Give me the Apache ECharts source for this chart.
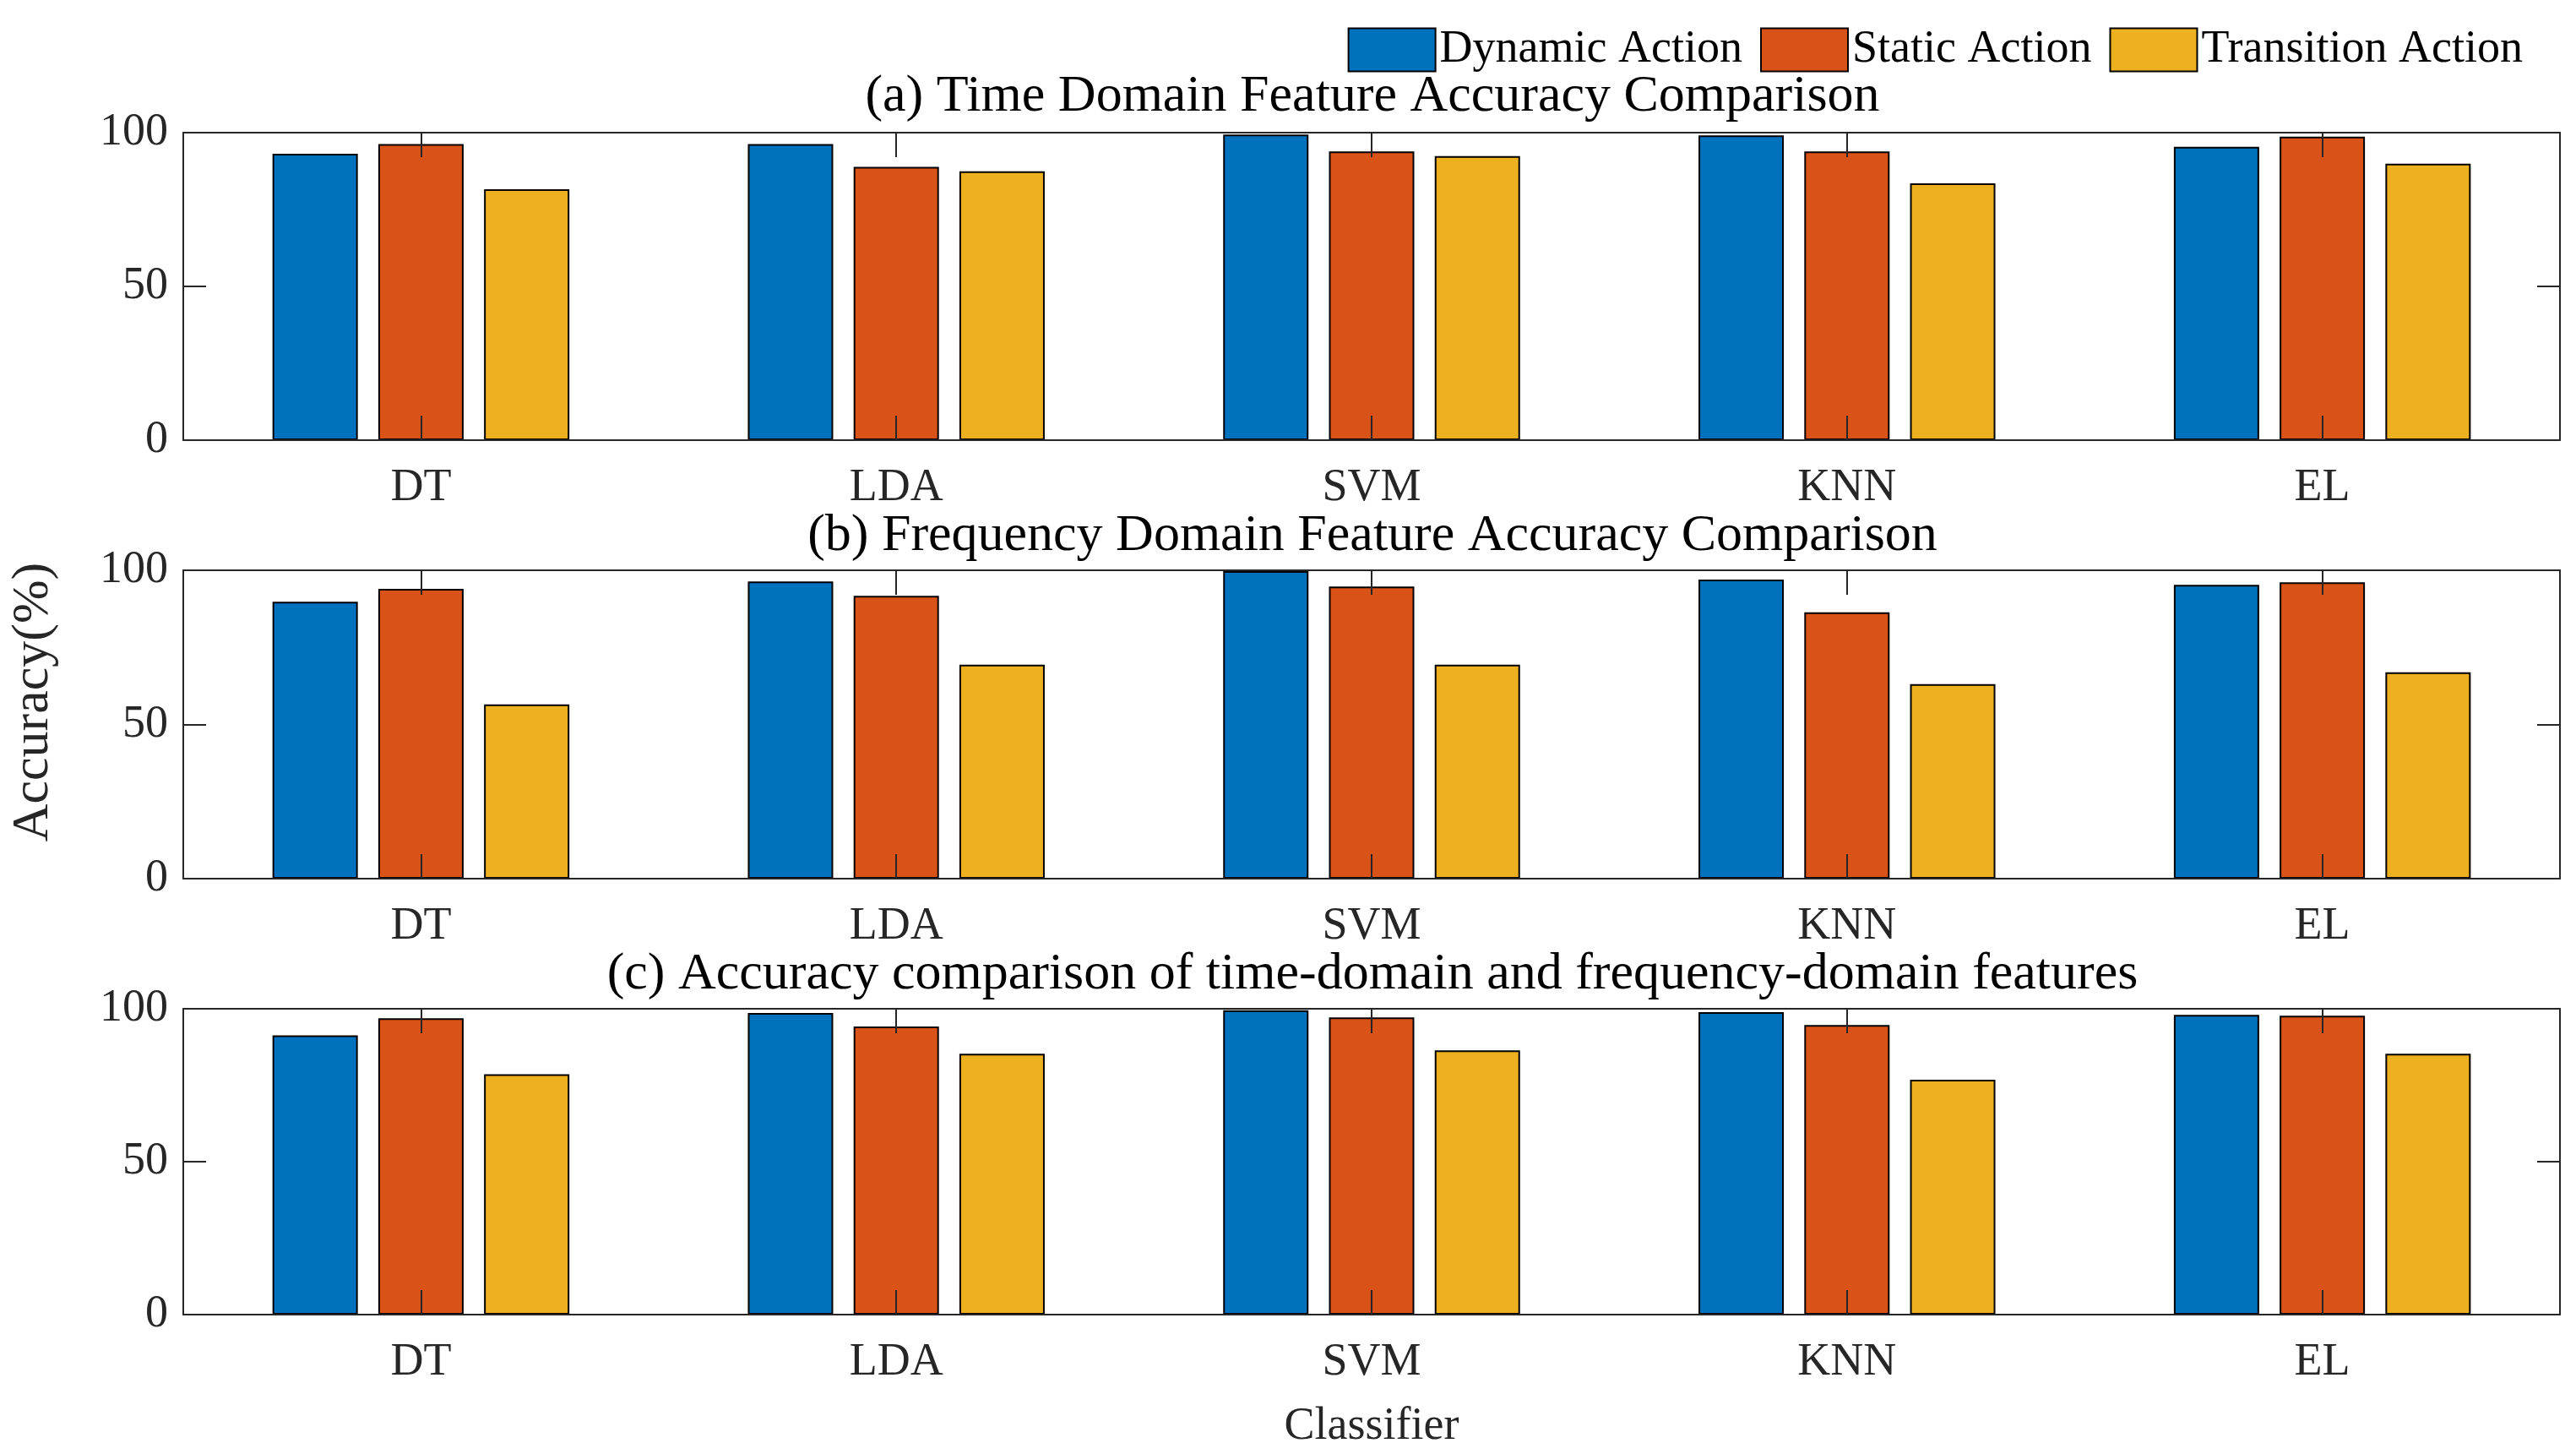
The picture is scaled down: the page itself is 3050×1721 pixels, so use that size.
<!DOCTYPE html>
<html>
<head>
<meta charset="utf-8">
<script src="https://cdn.jsdelivr.net/npm/echarts@6/dist/echarts.min.js"></script>
<style>
html,body{margin:0;padding:0;background:#fff;}
#chart{width:3050px;height:1721px;}
</style>
</head>
<body>
<div id="chart"></div>
<script>
const categories = ['DT', 'LDA', 'SVM', 'KNN', 'EL'];
const seriesNames = ['Dynamic Action', 'Static Action', 'Transition Action'];
const panelTitles = [
  '(a) Time Domain Feature Accuracy Comparison',
  '(b) Frequency Domain Feature Accuracy Comparison',
  '(c) Accuracy comparison of time-domain and frequency-domain features'
];
const yTicks = [0, 50, 100];

const timeDynamic    = [93.1, 96.3, 99.4, 99.1, 95.4];
const timeStatic     = [96.3, 88.9, 93.9, 93.9, 98.7];
const timeTransition = [81.6, 87.4, 92.4, 83.5, 89.9];

const freqDynamic    = [89.8, 96.4, 99.7, 97.0, 95.3];
const freqStatic     = [94.0, 91.7, 94.7, 86.4, 96.1];
const freqTransition = [56.5, 69.4, 69.4, 63.1, 66.9];

const combDynamic    = [91.3, 98.6, 99.5, 98.9, 98.0];
const combStatic     = [96.9, 94.2, 97.2, 94.7, 97.7];
const combTransition = [78.6, 85.3, 86.4, 76.8, 85.3];

const panels = [
  [timeDynamic, timeStatic, timeTransition],
  [freqDynamic, freqStatic, freqTransition],
  [combDynamic, combStatic, combTransition]
];

const colors = ['#0072BD', '#D95319', '#EDB120'];
const FONT = 'Liberation Serif';
const AX = '#262626';
const gridTops = [157, 675, 1194];
const gridHeights = [364, 365, 362];
const gridLeft = 217, gridRight = 19;
const titleY = [115, 635, 1154];

(function primeFonts() {
  const ctx = document.createElement('canvas').getContext('2d');
  [54, 62].forEach(sz => {
    ['', 'normal normal '].forEach(pre => {
      ctx.font = pre + sz + 'px ' + FONT;
      ctx.measureText('DT LDA SVM KNN EL 100 50 0 Dynamic Static Transition Action');
      ctx.fillText('DT 100 Action', 0, 20);
    });
  });
})();

function makeOption() {
  const grids = [], xAxes = [], yAxes = [], series = [], graphics = [];
  panels.forEach((panel, p) => {
    grids.push({left: gridLeft, right: gridRight, top: gridTops[p], height: gridHeights[p], containLabel: false});
    const xBase = {
      gridIndex: p, type: 'category', data: categories, z: 5,
      axisLine: {show: true, onZero: false, lineStyle: {color: AX, width: 2}},
      axisTick: {show: true, inside: true, length: 29, alignWithLabel: true, lineStyle: {color: AX, width: 2}},
      splitLine: {show: false}
    };
    xAxes.push(Object.assign({}, xBase, {
      position: 'bottom',
      axisLabel: {show: true, margin: 30, fontSize: 54, color: AX, fontFamily: FONT}
    }));
    xAxes.push(Object.assign({}, xBase, {position: 'top', axisLabel: {show: false}}));
    const yBase = {
      gridIndex: p, type: 'value', min: yTicks[0], max: yTicks[yTicks.length - 1],
      interval: yTicks[1] - yTicks[0], z: 5,
      axisLine: {show: true, onZero: false, lineStyle: {color: AX, width: 2}},
      axisTick: {show: true, inside: true, length: 27, lineStyle: {color: AX, width: 2}},
      splitLine: {show: false}
    };
    yAxes.push(Object.assign({}, yBase, {
      position: 'left',
      axisLabel: {show: true, margin: 18, fontSize: 54, color: AX, fontFamily: FONT}
    }));
    yAxes.push(Object.assign({}, yBase, {position: 'right', axisLabel: {show: false}}));

    panel.forEach((vals, s) => {
      series.push({
        type: 'bar', name: seriesNames[s],
        xAxisIndex: 2 * p, yAxisIndex: 2 * p,
        data: vals, barWidth: 101, barGap: '24%',
        itemStyle: {color: colors[s], borderColor: '#000', borderWidth: 2},
        emphasis: {disabled: true}
      });
    });

    graphics.push({
      type: 'text', x: (gridLeft + 3050 - gridRight) / 2 + 1, y: titleY[p],
      style: {text: panelTitles[p], fontSize: 62, fontFamily: FONT, fill: '#000', align: 'center', verticalAlign: 'middle'}
    });
  });

  graphics.push({
    type: 'text', x: 40, y: 831, rotation: Math.PI / 2,
    style: {text: 'Accuracy(%)', fontSize: 62, fontFamily: FONT, fill: AX, align: 'center', verticalAlign: 'middle'}
  });
  graphics.push({
    type: 'text', x: 1624, y: 1689,
    style: {text: 'Classifier', fontSize: 54, fontFamily: FONT, fill: AX, align: 'center', verticalAlign: 'middle'}
  });

  return {
    backgroundColor: '#fff',
    animation: false,
    textStyle: {fontFamily: FONT},
    legend: {
      data: seriesNames, right: 58, top: 27, icon: 'rect',
      itemWidth: 103, itemHeight: 51, itemGap: 21,
      textStyle: {fontSize: 54, fontFamily: FONT, color: '#000'}
    },
    grid: grids,
    xAxis: xAxes,
    yAxis: yAxes,
    series: series,
    graphic: graphics
  };
}

const chart = echarts.init(document.getElementById('chart'), null, {renderer: 'canvas'});
chart.setOption(makeOption());

function rerender() { chart.setOption(makeOption(), true); }
if (document.fonts && document.fonts.ready) {
  document.fonts.ready.then(rerender);
}
setTimeout(rerender, 250);
</script>
</body>
</html>
